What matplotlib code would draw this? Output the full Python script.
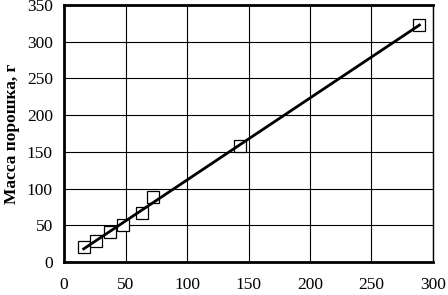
import matplotlib
matplotlib.use("Agg")
import matplotlib.pyplot as plt
import numpy as np

x_vals = [16, 26, 37, 48, 63, 72, 143, 289]
y_vals = [20, 28, 41, 50, 67, 88, 158, 323]
x_ticks = [0, 50, 100, 150, 200, 250, 300]
y_ticks = [0, 50, 100, 150, 200, 250, 300, 350]
y_label = "Масса порошка, г"

plt.rcParams['font.family'] = ['Liberation Serif', 'DejaVu Serif']

fig = plt.figure(figsize=(4.48, 2.95), dpi=100)
ax = fig.add_axes([0.1429, 0.1119, 0.8236, 0.8711])

ax.set_xlim(0, 300)
ax.set_ylim(0, 350)
ax.set_xticks(x_ticks)
ax.set_yticks(y_ticks)
ax.grid(True, color='black', linewidth=0.8)
ax.set_axisbelow(True)

xs = np.array(x_vals, dtype=float)
ys = np.array(y_vals, dtype=float)
k, b = np.polyfit(xs, ys, 1)
xl = np.array([xs.min(), xs.max()])
ax.plot(xs, ys, linestyle='none', marker='s', markersize=9,
        markerfacecolor='white', markeredgecolor='black', markeredgewidth=0.9, zorder=3)
ax.plot(xl, k * xl + b, color='black', linewidth=2.0, zorder=4)

for side in ['left', 'bottom', 'top']:
    ax.spines[side].set_linewidth(2.0)
ax.spines['right'].set_linewidth(1.0)
ax.tick_params(axis='both', length=0, labelsize=12.5)
ax.tick_params(axis='x', pad=11)
ax.tick_params(axis='y', pad=8)
ax.set_ylabel(y_label, fontsize=12.5, fontweight='bold', labelpad=5)

fig.savefig("out.png", dpi=100)
